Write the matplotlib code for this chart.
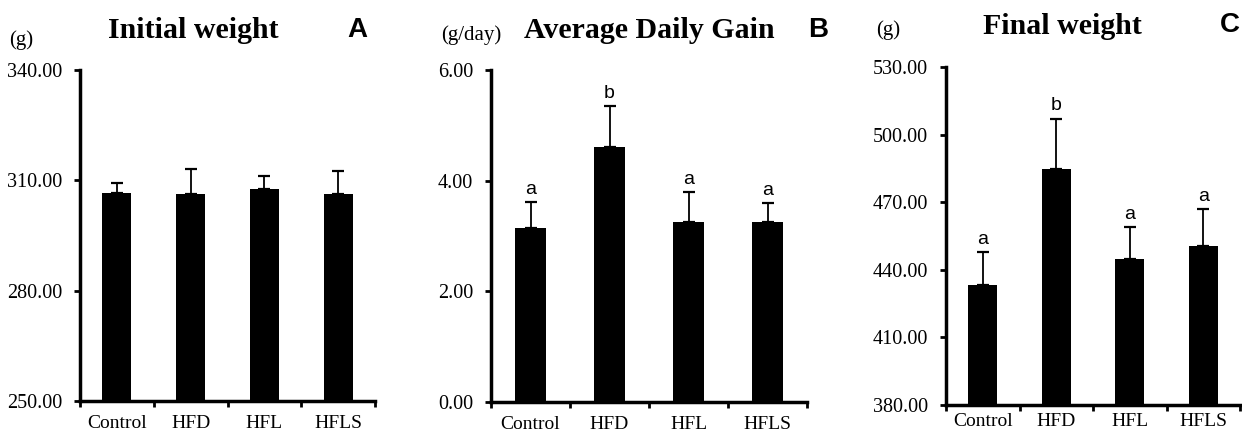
import matplotlib
matplotlib.use("Agg")
import matplotlib.pyplot as plt
import numpy as np

W, H = 1242, 433
categories = ["Control", "HFD", "HFL", "HFLS"]

initial_mean = [306.5, 306.3, 307.7, 306.3]
initial_err = [2.7, 6.9, 3.5, 6.2]

adg_mean = [3.14, 4.61, 3.26, 3.26]
adg_err = [0.48, 0.74, 0.54, 0.33]
adg_letters = ["a", "b", "a", "a"]

final_mean = [433.2, 484.9, 445.0, 450.5]
final_err = [14.5, 22.2, 14.0, 16.5]
final_letters = ["a", "b", "a", "a"]

serif = ["Liberation Serif", "DejaVu Serif"]
sans = ["Liberation Sans", "DejaVu Sans"]

fig = plt.figure(figsize=(W / 100, H / 100), dpi=100)

def px_axes(x0, x1, ytop, ybot):
    return fig.add_axes([x0 / W, 1 - ybot / H, (x1 - x0) / W, (ybot - ytop) / H])

def panel(ax, means, errs, ylim, yticks, letters=None, letter_pad=3, xpad=10):
    x = np.arange(len(categories)) + 0.5
    ax.bar(x, means, width=0.39, color="black", zorder=2)
    ax.errorbar(x, means, yerr=[np.zeros(len(errs)), errs], fmt="none",
                ecolor="black", elinewidth=1.3, capsize=4, capthick=1.6, zorder=3)
    ax.set_xlim(0, len(categories))
    ax.set_ylim(*ylim)
    ax.set_yticks(yticks)
    ax.set_yticklabels([f"{v:.2f}" for v in yticks], family=serif, fontsize=14.5)
    ax.set_xticks(np.arange(len(categories) + 1))
    ax.set_xticklabels([])
    ax.set_xticks(x, minor=True)
    ax.set_xticklabels(categories, minor=True, family=serif, fontsize=14)
    ax.tick_params(axis="x", which="minor", length=0, pad=xpad)
    ax.tick_params(axis="both", which="major", direction="out", length=4, width=2)
    ax.tick_params(axis="y", which="major", pad=9)
    for s in ["top", "right"]:
        ax.spines[s].set_visible(False)
    for s in ["left", "bottom"]:
        ax.spines[s].set_linewidth(2.5)
    if letters:
        for xi, m, e, l in zip(x, means, errs, letters):
            ax.annotate(l, (xi, m + e), xytext=(0, letter_pad), textcoords="offset points",
                        ha="center", va="bottom", family=sans, fontsize=14)

axA = px_axes(80, 375, 70, 401)
panel(axA, initial_mean, initial_err, (250, 340), [250, 280, 310, 340])
axB = px_axes(491, 807, 70, 402)
panel(axB, adg_mean, adg_err, (0, 6), [0, 2, 4, 6], adg_letters)
axC = px_axes(946, 1240, 67, 405)
panel(axC, final_mean, final_err, (380, 530), [380, 410, 440, 470, 500, 530], final_letters, xpad=6)

def ftext(x, y, s, **kw):
    fig.text(x / W, 1 - y / H, s, **kw)

ftext(193, 30, "Initial weight", family=serif, fontsize=21.5, fontweight="bold", ha="center", va="center")
ftext(649, 30, "Average Daily Gain", family=serif, fontsize=21.5, fontweight="bold", ha="center", va="center")
ftext(1062, 27, "Final weight", family=serif, fontsize=21.5, fontweight="bold", ha="center", va="center")

ftext(357, 30, "A", family=sans, fontsize=20, fontweight="bold", ha="center", va="center")
ftext(818, 30, "B", family=sans, fontsize=20, fontweight="bold", ha="center", va="center")
ftext(1230, 25, "C", family=sans, fontsize=20, fontweight="bold", ha="center", va="center")

ftext(9, 40, "(g)", family=serif, fontsize=15, ha="left", va="center")
ftext(441, 35, "(g/day)", family=serif, fontsize=15, ha="left", va="center")
ftext(876, 30, "(g)", family=serif, fontsize=15, ha="left", va="center")

fig.savefig("out.png", dpi=100, facecolor="white")
